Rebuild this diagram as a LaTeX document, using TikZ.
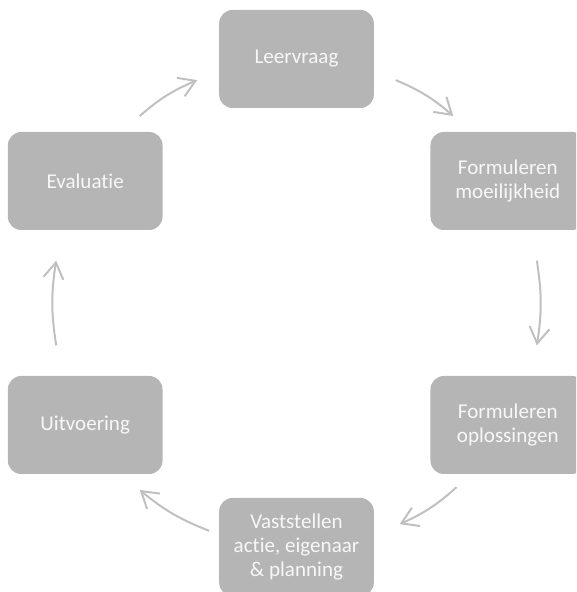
\documentclass[tikz,border=0pt]{standalone}
\usepackage{fontspec}
\setmainfont{Carlito}[Ligatures={NoCommon}]
\usetikzlibrary{arrows.meta,calc}
\definecolor{boxgray}{HTML}{B5B5B5}
\definecolor{linegray}{HTML}{C0C0C0}

\begin{document}
\begin{tikzpicture}[x=0.75pt,y=0.75pt,
      stap/.style={rectangle,rounded corners=10pt,fill=boxgray,text=white!97!black,align=center,
                   font=\fontsize{15.8}{18}\selectfont,inner sep=0pt,
                   minimum width=116pt,minimum height=73.5pt},
      pijl/.style={draw=linegray,line width=1.5pt,bend left=9,
                   -{Straight Barb[length=12pt,width=15pt]}}]
  \useasboundingbox (0,0) rectangle (576,592);
  \clip (0,0) rectangle (576,592);
  \coordinate (c) at (296.5,289);
  % the six steps of the cycle
  \node[stap] (vraag)   at ($(c)+(90:244)$)  {Leervraag};
  \node[stap] (moeil)   at ($(c)+(30:244)$)  {Formuleren\\moeilijkheid};
  \node[stap] (opl)     at ($(c)+(-30:244)$) {Formuleren\\oplossingen};
  \node[stap] (actie)   at ($(c)+(-90:244)$) {Vaststellen\\actie, eigenaar\\\& planning};
  \node[stap] (uitv)    at ($(c)+(210:244)$) {Uitvoering};
  \node[stap] (eval)    at ($(c)+(150:244)$) {Evaluatie};
  % arrows on the circle between the steps
  \foreach \s/\e [count=\i] in {66/50,10/-10,-49/-65,-111/-130,190/170,130/114}{
    \coordinate (s\i) at ($(c)+(\s:244)$);
    \coordinate (e\i) at ($(c)+(\e:244)$);
    \draw[pijl] (s\i) to (e\i);
  }
\end{tikzpicture}
\end{document}
